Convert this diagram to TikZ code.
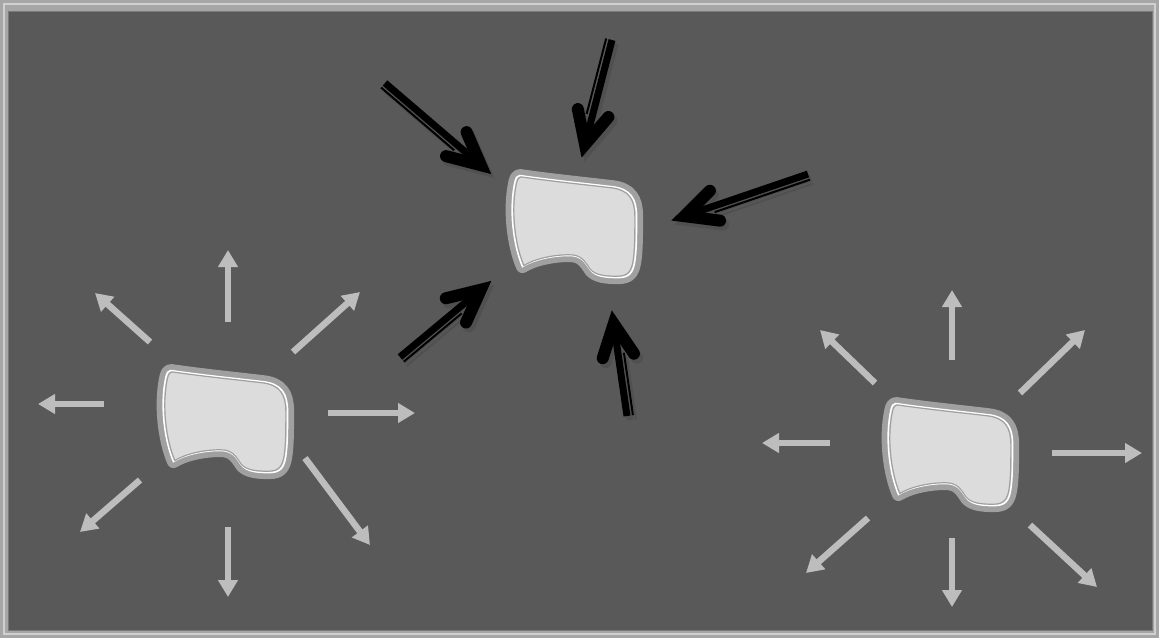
\documentclass[tikz,border=0pt]{standalone}
\usetikzlibrary{arrows.meta,calc}
\definecolor{bg}{HTML}{595959}
\definecolor{band}{HTML}{A0A0A0}
\definecolor{blobfill}{HTML}{DCDCDC}
\definecolor{garrow}{HTML}{BDBDBD}
\definecolor{frameouter}{HTML}{A6A6A6}
\definecolor{framelight}{HTML}{D0D0D0}
\definecolor{framedark}{HTML}{7A7A7A}
\definecolor{shadowd}{HTML}{505050}
\newcommand\blobpath{(-59,-56) .. controls (-25,-51) and (15,-47) .. (40,-44)
 .. controls (62,-42) and (68,-30) .. (68,-12)
 .. controls (68,10) and (68,25) .. (66,38)
 .. controls (64,50) and (60,55) .. (48,55)
 .. controls (35,55) and (24,54) .. (18,47)
 .. controls (12,38) and (8,31) .. (-5,31)
 .. controls (-25,31) and (-45,36) .. (-56,43)
 .. controls (-66,20) and (-71,-20) .. (-64,-50)
 .. controls (-63,-54) and (-61,-56) .. (-59,-56) -- cycle}
\tikzset{
  grayarrow/.style={draw=garrow, line width=6.5pt, -{Triangle[width=19pt,length=17pt]}},
  blob/.pic={
    \begin{scope}[scale=0.92]
      \draw[band, line width=13pt, line join=round] \blobpath;
      \fill[blobfill] \blobpath;
      \draw[white, line width=1.5pt] \blobpath;
    \end{scope}
    \begin{scope}[scale=0.895]
      \draw[band, line width=1.2pt] \blobpath;
    \end{scope}
  }
}
\newcommand\bkarrowpart[2]{%
  \coordinate (bkV) at ($(#2)!12pt!(#1)$);
  \draw[line width=7pt] (#1) -- (bkV);
  \draw[line width=2pt] (bkA) -- ($(bkB)!42pt!(bkA)$);
  \draw[line width=12pt, line cap=round, line join=miter, miter limit=10]
     ($(bkV)!36pt!26:(#1)$) -- (bkV) -- ($(bkV)!36pt!-26:(#1)$);
}
% #1 tail, #2 tip, #3/#4 perpendicular side angles for the thin line
\newcommand\bkarrow[4]{%
  \coordinate (bkA) at ($(#1)!6pt!#3:(#2)$);
  \coordinate (bkB) at ($(#2)!6pt!#4:(#1)$);
  \begin{scope}[draw=shadowd, transform canvas={xshift=3pt,yshift=-4pt}]
    \bkarrowpart{#1}{#2}
  \end{scope}
  \begin{scope}[draw=black]
    \bkarrowpart{#1}{#2}
  \end{scope}
}
\begin{document}
\begin{tikzpicture}[x=1pt,y=-1pt]
\useasboundingbox (0,0) rectangle (1159,638);
% frame
\fill[frameouter] (0,0) rectangle (1159,638);
\draw[framelight, line width=1.5pt] (4,4) rectangle (1155,634);
\fill[bg] (8,11) rectangle (1152,630);
\draw[framedark, line width=1pt] (8,11) rectangle (1152,630);

% blob centres
\coordinate (L) at (225,422);
\coordinate (M) at (574,227);
\coordinate (R) at (950,455);
\pic at (L) {blob};
\pic at (M) {blob};
\pic at (R) {blob};

% outgoing gray arrows, left blob
\foreach \a/\b/\c/\d in {3/-100/3/-172, -121/-18/-187/-18, -75/-80/-130/-129, 68/-70/135/-130,
  103/-9/190/-9, 80/36/145/123, 3/105/3/175, -85/58/-145/110}
  \draw[grayarrow] ($(L)+(\a,\b)$) -- ($(L)+(\c,\d)$);
% outgoing gray arrows, right blob
\foreach \a/\b/\c/\d in {2/-95/2/-165, -75/-72/-130/-125, 70/-62/135/-125, -120/-12/-188/-12,
  102/-2/192/-2, 80/70/147/132, 2/83/2/152, -82/63/-144/118}
  \draw[grayarrow] ($(R)+(\a,\b)$) -- ($(R)+(\c,\d)$);

% incoming black arrows, middle blob
\coordinate (t1) at (385,83);  \coordinate (h1) at (490,173);
\coordinate (t2) at (612,40);  \coordinate (h2) at (582,156);
\coordinate (t3) at (808,174); \coordinate (h3) at (673,220);
\coordinate (t4) at (400,357); \coordinate (h4) at (490,282);
\coordinate (t5) at (627,416); \coordinate (h5) at (612,312);
\bkarrow{t1}{h1}{-90}{90}
\bkarrow{t2}{h2}{-90}{90}
\bkarrow{t3}{h3}{90}{-90}
\bkarrow{t4}{h4}{-90}{90}
\bkarrow{t5}{h5}{-90}{90}
\end{tikzpicture}
\end{document}
